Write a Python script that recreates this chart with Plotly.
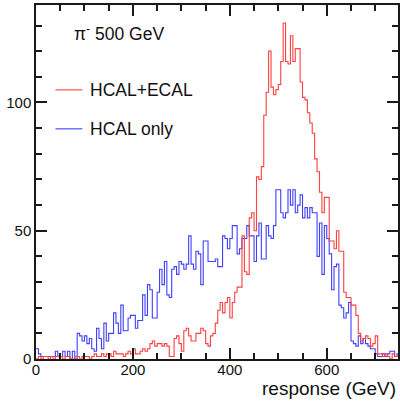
import numpy as np
import plotly.graph_objects as go

# 5 GeV bins from 0 to 750 GeV
bin_width = 5
bin_lo = 0

hcal_ecal = [
    0, 1, 0, 1, 1, 0, 1, 0, 1, 1,
    1, 0, 1, 1, 0, 0, 1, 1, 0, 1,
    1, 1, 0, 1, 2, 1, 1, 2, 1, 2,
    2, 1, 3, 2, 2, 2, 1, 2, 3, 2,
    4, 2, 2, 3, 4, 3, 4, 6, 7, 5,
    6, 6, 5, 6, 5, 1, 1, 8, 9, 6,
    3, 11, 12, 9, 7, 7, 10, 10, 12, 11,
    6, 5, 9, 10, 14, 19, 22, 18, 22, 24,
    16, 22, 26, 28, 28, 48, 34, 33, 55, 57,
    50, 71, 70, 75, 95, 104, 120, 106, 103, 105,
    107, 116, 131, 116, 115, 126, 116, 121, 121, 108,
    102, 101, 96, 92, 88, 78, 73, 65, 57, 63,
    63, 46, 46, 43, 50, 42, 42, 26, 24, 24,
    21, 21, 17, 10, 7, 8, 9, 8, 5, 6,
    9, 2, 2, 1, 2, 1, 0, 2, 1, 1,
]

hcal_only = [
    4, 2, 1, 1, 1, 1, 1, 1, 3, 1,
    1, 3, 1, 3, 0, 3, 0, 10, 9, 7,
    9, 6, 8, 4, 3, 12, 8, 4, 14, 7,
    10, 10, 18, 14, 10, 21, 11, 11, 16, 17,
    17, 12, 15, 15, 25, 17, 29, 27, 16, 16,
    26, 35, 29, 38, 25, 24, 35, 36, 33, 38,
    37, 35, 37, 48, 37, 35, 42, 41, 29, 46,
    46, 38, 38, 38, 39, 36, 36, 48, 47, 43,
    47, 52, 52, 41, 43, 47, 47, 52, 48, 48,
    38, 48, 53, 39, 39, 52, 48, 47, 52, 66,
    66, 57, 55, 57, 66, 60, 66, 57, 60, 64,
    55, 59, 55, 59, 57, 57, 40, 53, 33, 52,
    47, 41, 27, 36, 37, 21, 20, 16, 18, 22,
    7, 6, 5, 9, 6, 8, 6, 5, 4, 4,
    2, 1, 1, 2, 1, 2, 3, 3, 1, 2,
]

x_ticks = [0, 200, 400, 600]
y_ticks = [0, 50, 100]

RED = "#ff4040"
BLUE = "#4040ff"


def step_xy(vals):
    n = len(vals)
    edges = bin_lo + bin_width * np.arange(n + 1)
    xs = list(edges)
    ys = list(vals) + [vals[-1]]
    return xs, ys


fig = go.Figure()
for vals, col, name in [(hcal_only, BLUE, "HCAL only"), (hcal_ecal, RED, "HCAL+ECAL")]:
    xs, ys = step_xy(vals)
    fig.add_trace(go.Scatter(x=xs, y=ys, mode="lines", line=dict(color=col, width=1.1, shape="hv"),
                             name=name, showlegend=False, hoverinfo="skip"))

axis_common = dict(showline=True, linecolor="#1a1a1a", linewidth=1.5, mirror="ticks",
                   ticks="inside", tickcolor="#1a1a1a", tickwidth=1.5, ticklen=11,
                   showgrid=False, zeroline=False,
                   tickfont=dict(family="Liberation Sans, Arial", size=15, color="#111"))

fig.update_xaxes(range=[0, 747], tickvals=x_ticks, ticktext=[str(v) for v in x_ticks],
                 ticklabelstandoff=-4,
                 minor=dict(ticks="inside", ticklen=6, dtick=50, tickcolor="#1a1a1a", tickwidth=1.5),
                 **axis_common)
fig.update_yaxes(range=[0, 138], tickvals=y_ticks, ticktext=[str(v) for v in y_ticks],
                 minor=dict(ticks="inside", ticklen=6, dtick=10, tickcolor="#1a1a1a", tickwidth=1.5),
                 **axis_common)

W, H = 400, 401
pl, pr, pt, pb = 35.5, 1.5, 5, 41.5
pw, ph = W - pl - pr, H - pt - pb

fig.update_layout(
    width=W, height=H,
    margin=dict(l=pl, r=pr, t=pt, b=pb),
    paper_bgcolor="white", plot_bgcolor="white",
    showlegend=False,
)


def px2paper(x, y):
    return (x - pl) / pw, (H - pb - y) / ph


font = dict(family="Liberation Sans, Arial", size=17.5, color="#111")
ann = []
tx, ty = px2paper(72, 33)
ann.append(dict(text="π<sup>-</sup> 500 GeV", x=tx, y=ty, xref="paper", yref="paper",
                xanchor="left", yanchor="middle", showarrow=False, font=font))
for label, col, ypix in [("HCAL+ECAL", RED, 90), ("HCAL only", BLUE, 129)]:
    lx, ly = px2paper(88, ypix)
    ann.append(dict(text=label, x=lx, y=ly, xref="paper", yref="paper", xanchor="left",
                    yanchor="middle", showarrow=False, font=font))
    x0, y0 = px2paper(55, ypix)
    x1, _ = px2paper(82, ypix)
    fig.add_shape(type="line", xref="paper", yref="paper", x0=x0, x1=x1, y0=y0, y1=y0,
                  line=dict(color=col, width=1.1))
ttx, tty = px2paper(398, 389)
ann.append(dict(text="response (GeV)", x=ttx, y=tty, xref="paper", yref="paper",
                xanchor="right", yanchor="middle", showarrow=False,
                font=dict(family="Liberation Sans, Arial", size=19, color="#111")))
fig.update_layout(annotations=ann)

fig.write_html("out.html")
